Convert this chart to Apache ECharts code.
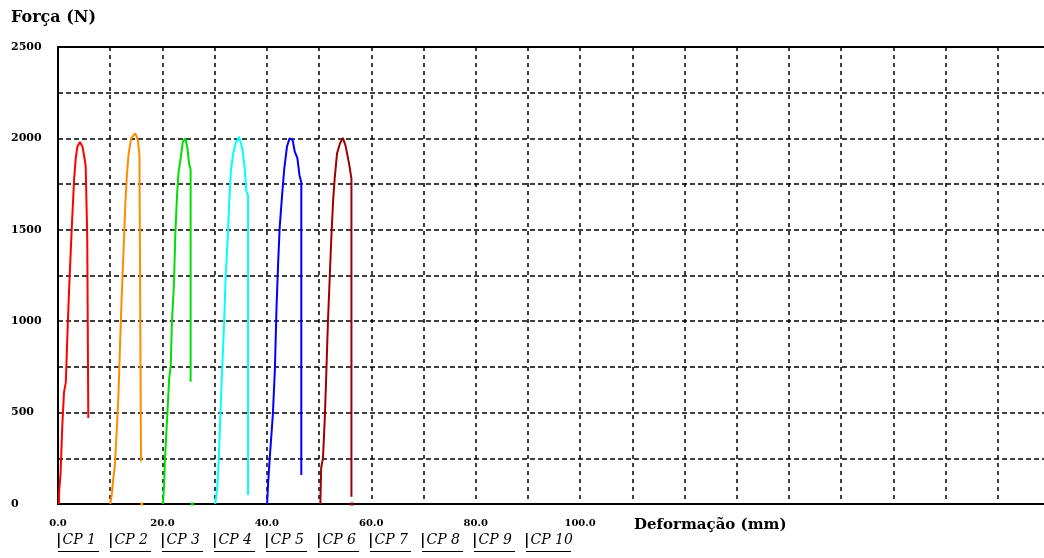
<!DOCTYPE html>
<html>
<head>
<meta charset="utf-8">
<script src="https://cdn.jsdelivr.net/npm/echarts@6/dist/echarts.min.js"></script>
<style>html,body{margin:0;padding:0;background:#fff;}#c{width:1044px;height:558px;}</style>
</head>
<body>
<div id="c"></div>
<script>
const seriesNames = ['CP 1','CP 2','CP 3','CP 4','CP 5','CP 6','CP 7','CP 8','CP 9','CP 10'];
const seriesColors = ['#ff0000','#ff8c00','#00e000','#00ffff','#0000ff','#a00000','#ff00ff','#808000','#008080','#808080'];

const cp1X = [0.2,0.2,0.5,0.8,1.15,1.5,1.8,2.1,2.45,2.75,3.1,3.4,3.7,4.2,4.7,5.0,5.3,5.6,5.6,5.8,5.8];
const cp1Y = [0,60,170,415,612,667,924,1154,1389,1580,1783,1892,1953,1981,1954,1905,1850,1845,1460,1455,470];
const cp1Tail = null;

const cp2X = [10.0,10.3,10.6,10.9,11.3,11.6,11.9,12.2,12.5,12.9,13.2,13.5,14.0,14.8,15.3,15.6,15.9,15.9];
const cp2Y = [0,50,142,213,432,612,886,1134,1345,1646,1799,1909,2000,2027,1990,1909,1900,232];
const cp2Tail = [16.05,0];

const cp3X = [20.1,20.3,20.5,20.9,21.3,21.6,21.8,22.2,22.5,22.8,23.1,23.5,23.9,24.4,24.8,25.1,25.4,25.4];
const cp3Y = [0,95,251,470,689,760,979,1198,1498,1690,1817,1892,1981,2000,1945,1863,1830,669];
const cp3Tail = [25.7,0];

const cp4X = [30.1,30.5,30.8,31.1,31.4,31.8,32.1,32.5,32.8,33.1,33.5,34.0,34.7,35.3,35.7,36.1,36.4,36.4];
const cp4Y = [0,88,251,487,706,979,1235,1455,1653,1817,1909,1972,2009,1945,1854,1708,1690,49];
const cp4Tail = null;

const cp5X = [40.05,40.25,40.55,40.9,41.15,41.55,41.85,42.15,42.45,42.95,43.35,43.85,44.35,44.95,45.35,45.85,46.25,46.6,46.6];
const cp5Y = [0,115,251,260,487,743,1071,1307,1509,1701,1838,1954,2000,1990,1927,1892,1799,1760,159];
const cp5Tail = null;

const cp6X = [50.25,50.4,50.75,51.1,51.4,51.7,52.05,52.35,52.7,53.0,53.45,54.0,54.55,55.05,55.5,55.8,56.2,56.2];
const cp6Y = [0,197,251,470,722,995,1243,1455,1663,1783,1919,1972,2003,1963,1899,1854,1780,40];
const cp6Tail = [56.3,0];

const curvesX = [cp1X,cp2X,cp3X,cp4X,cp5X,cp6X];
const curvesY = [cp1Y,cp2Y,cp3Y,cp4Y,cp5Y,cp6Y];
const curveTails = [cp1Tail,cp2Tail,cp3Tail,cp4Tail,cp5Tail,cp6Tail];

const xTickLabels = [0,20,40,60,80,100];
const yTickLabels = [0,500,1000,1500,2000,2500];

const SERIF = "'DejaVu Serif', 'Liberation Serif', serif";

const series = seriesNames.map((name, i) => {
  let data = [];
  if (i < curvesX.length) {
    data = curvesX[i].map((x, k) => [x, curvesY[i][k]]);
    if (curveTails[i]) {
      data.push('-');
      data.push({value: curveTails[i], symbol: 'rect', symbolSize: [3,3]});
    }
  }
  return {
    name: name,
    type: 'line',
    data: data,
    showSymbol: true,
    symbol: 'none',
    connectNulls: false,
    animation: false,
    color: seriesColors[i],
    itemStyle: {color: seriesColors[i]},
    lineStyle: {color: seriesColors[i], width: 2}
  };
});

const LEG_LEFT = 58, LEG_STEP = 52;
const legends = seriesNames.map((n, i) => ({
  data: [n],
  left: LEG_LEFT + i * LEG_STEP, top: 533, padding: 0,
  icon: 'path://M0,0H2V20H0Z',
  itemWidth: 1.5, itemHeight: 19, itemGap: 0,
  selectedMode: false,
  itemStyle: {color: '#000', borderWidth: 0},
  textStyle: {fontFamily: SERIF, fontStyle: 'italic', fontSize: 14, color: '#000', padding: [4,0,0,-2]}
}));

const chart = echarts.init(document.getElementById('c'), null, {renderer: 'canvas'});
chart.setOption({
  backgroundColor: '#ffffff',
  animation: false,
  title: {
    text: 'Força (N)',
    left: 11, top: 10, padding: 0,
    textStyle: {fontFamily: SERIF, fontWeight: 'bold', fontSize: 16, color: '#000'}
  },
  grid: {left: 58, top: 47, right: -6, bottom: 54, show: true, borderColor: '#000', borderWidth: 2, outerBoundsMode: 'none', containLabel: false},
  xAxis: {
    type: 'value', min: 0, max: 190, interval: 10,
    name: 'Deformação (mm)',
    nameLocation: 'middle',
    nameGap: 14,
    nameMoveOverlap: false,
    nameTextStyle: {fontFamily: SERIF, fontWeight: 'bold', fontSize: 15, color: '#000', align: 'left', verticalAlign: 'top', padding: [0,0,0,80]},
    axisLine: {show: true, lineStyle: {color: '#000', width: 2}},
    axisTick: {show: false},
    axisLabel: {
      margin: 14, fontFamily: SERIF, fontWeight: 'bold', fontSize: 10, color: '#000',
      formatter: v => xTickLabels.indexOf(v) >= 0 ? v.toFixed(1) : ''
    },
    splitLine: {show: true, lineStyle: {color: '#000', width: 1.5, type: [4,4]}}
  },
  yAxis: {
    type: 'value', min: 0, max: 2500, interval: 250,
    axisLine: {show: true, lineStyle: {color: '#000', width: 2}},
    axisTick: {show: false},
    axisLabel: {
      margin: 47, align: 'left', fontFamily: SERIF, fontWeight: 'bold', fontSize: 11, color: '#000',
      formatter: v => yTickLabels.indexOf(v) >= 0 ? String(v) : ''
    },
    splitLine: {show: true, lineStyle: {color: '#000', width: 1.5, type: [5,3]}}
  },
  legend: legends,
  graphic: seriesNames.map((n, i) => ({
    type: 'line', silent: true,
    shape: {x1: LEG_LEFT + i * LEG_STEP, y1: 551.5, x2: LEG_LEFT + i * LEG_STEP + (n.length > 4 ? 45 : 41), y2: 551.5},
    style: {stroke: '#000', lineWidth: 1}
  })),
  series: series
});
</script>
</body>
</html>
